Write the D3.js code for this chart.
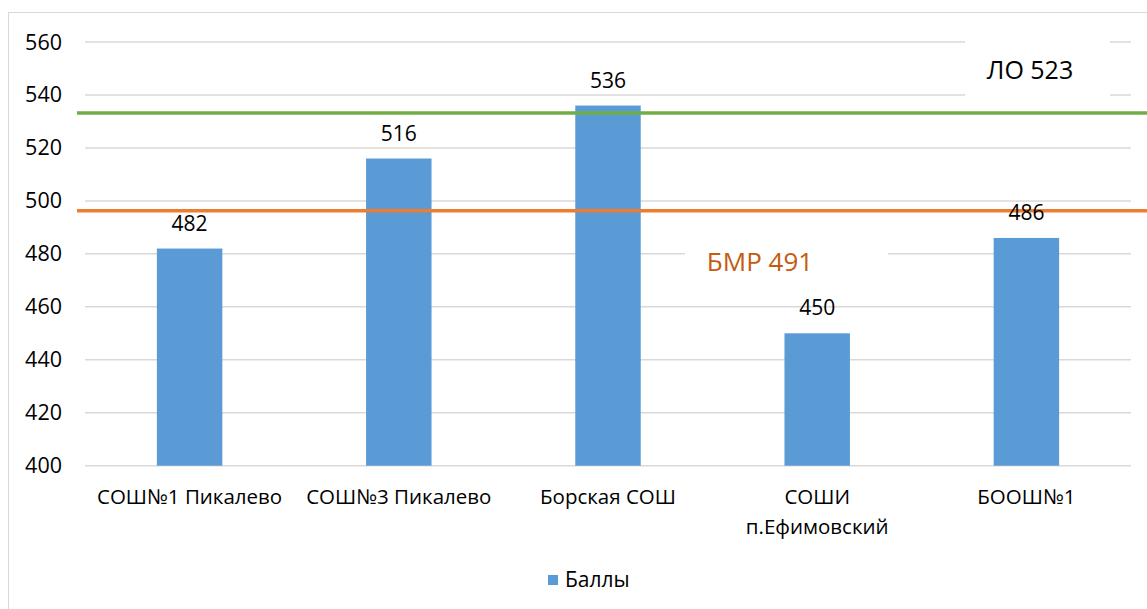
<!DOCTYPE html>
<html>
<head>
<meta charset="utf-8">
<script src="https://cdn.jsdelivr.net/npm/d3@7"></script>
<style>
  body { margin: 0; background: #fff; }
  text { font-family: "Open Sans", "Noto Sans", sans-serif; fill: #000; }
</style>
</head>
<body>
<script>
// data
var categories = ['СОШ№1 Пикалево', 'СОШ№3 Пикалево', 'Борская СОШ', 'СОШИ п.Ефимовский', 'БООШ№1'];
var labelLines = [['СОШ№1 Пикалево'], ['СОШ№3 Пикалево'], ['Борская СОШ'], ['СОШИ', 'п.Ефимовский'], ['БООШ№1']];
var scores = [482, 516, 536, 450, 486];
var yTicks = [400, 420, 440, 460, 480, 500, 520, 540, 560];
var refLines = [
  {name: 'ЛО 523', value: 533.2, color: '#70AD47'},
  {name: 'БМР 491', value: 496.3, color: '#ED7D31'}
];
var seriesName = 'Баллы';

var width = 1147, height = 609;
var svg = d3.select('body').append('svg')
  .attr('width', width)
  .attr('height', height);

// chart border
svg.append('rect')
  .attr('x', 8.5).attr('y', 12.5)
  .attr('width', width + 10).attr('height', height + 10)
  .attr('fill', 'none').attr('stroke', '#d9d9d9');

var x = d3.scaleBand().domain(categories).range([85, 1131]);
var y = d3.scaleLinear().domain([400, 560]).range([465.7, 42]);
var barW = x.bandwidth() * 0.313;

// gridlines
svg.selectAll('line.grid')
  .data(yTicks)
  .join('line')
    .attr('class', 'grid')
    .attr('x1', 85).attr('x2', 1131)
    .attr('y1', d => y(d)).attr('y2', d => y(d))
    .attr('stroke', '#d9d9d9').attr('stroke-width', 1.5);

// y tick labels
svg.selectAll('text.ytick')
  .data(yTicks)
  .join('text')
    .attr('class', 'ytick')
    .attr('x', 62).attr('y', d => y(d))
    .attr('dy', '0.35em')
    .attr('text-anchor', 'end')
    .attr('font-size', 21.5)
    .text(d => d);

// bars
svg.selectAll('rect.bar')
  .data(scores)
  .join('rect')
    .attr('class', 'bar')
    .attr('x', (d, i) => x(categories[i]) + x.bandwidth() / 2 - barW / 2)
    .attr('width', barW)
    .attr('y', d => y(d))
    .attr('height', d => y(400) - y(d))
    .attr('fill', '#5B9BD5');

// reference lines
svg.selectAll('line.ref')
  .data(refLines)
  .join('line')
    .attr('class', 'ref')
    .attr('x1', 77).attr('x2', width)
    .attr('y1', d => y(d.value)).attr('y2', d => y(d.value))
    .attr('stroke', d => d.color).attr('stroke-width', 3.5);

// value labels
svg.selectAll('text.val')
  .data(scores)
  .join('text')
    .attr('class', 'val')
    .attr('x', (d, i) => x(categories[i]) + x.bandwidth() / 2)
    .attr('y', d => y(d) - 18)
    .attr('text-anchor', 'middle')
    .attr('font-size', 21)
    .text(d => d);

// category labels
var cat = svg.selectAll('text.cat')
  .data(labelLines)
  .join('text')
    .attr('class', 'cat')
    .attr('x', (d, i) => x(categories[i]) + x.bandwidth() / 2)
    .attr('y', 504)
    .attr('text-anchor', 'middle')
    .attr('font-size', 20.5);
cat.selectAll('tspan')
  .data(d => d)
  .join('tspan')
    .attr('x', function() { return this.parentNode.getAttribute('x'); })
    .attr('dy', (d, i) => i ? 30 : 0)
    .text(d => d);

// ЛО label box
svg.append('rect')
  .attr('x', 965).attr('y', 36).attr('width', 145).attr('height', 60)
  .attr('fill', '#fff');
svg.append('text')
  .attr('x', 1030).attr('y', 70).attr('dy', '0.35em')
  .attr('text-anchor', 'middle').attr('font-size', 25)
  .text(refLines[0].name);

// БМР label box
svg.append('rect')
  .attr('x', 685).attr('y', 240).attr('width', 203).attr('height', 40)
  .attr('fill', '#fff');
svg.append('text')
  .attr('x', 760).attr('y', 262).attr('dy', '0.35em')
  .attr('text-anchor', 'middle').attr('font-size', 26)
  .style('fill', '#C55A11')
  .text(refLines[1].name);

// legend
svg.append('rect')
  .attr('x', 548).attr('y', 575).attr('width', 10).attr('height', 10)
  .attr('fill', '#5B9BD5');
svg.append('text')
  .attr('x', 565).attr('y', 580).attr('dy', '0.35em')
  .attr('font-size', 21)
  .text(seriesName);
</script>
</body>
</html>
